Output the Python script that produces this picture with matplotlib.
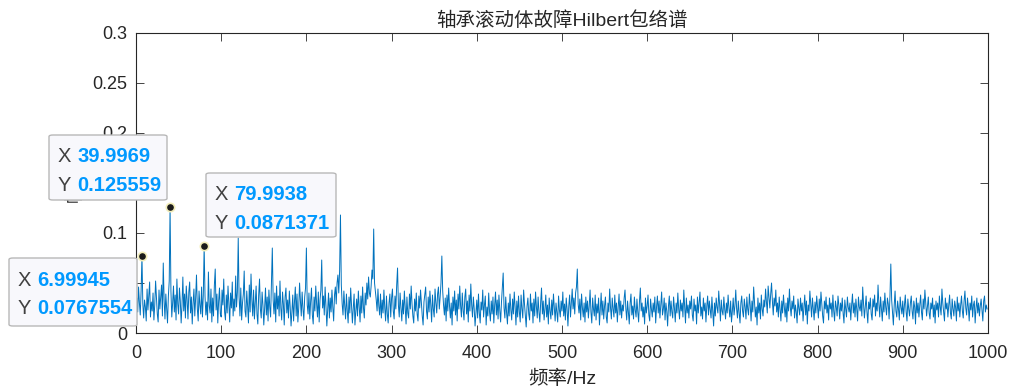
import numpy as np
import matplotlib
matplotlib.use('Agg')
from matplotlib import pyplot as plt
from matplotlib.patches import FancyBboxPatch

plt.rcParams['font.family'] = ['Liberation Sans', 'Noto Sans CJK SC', 'DejaVu Sans']

# 频率分辨率 (Hz)
df = 0.999922

# 包络谱幅值, 单位 1e-4, 每行 10 个点 (0 ~ 999 Hz)
amp_e4 = [
    80, 350, 210, 460, 300, 180, 420, 768, 290, 150,
    330, 260, 120, 440, 230, 370, 510, 160, 310, 220,
    400, 130, 280, 520, 350, 190, 110, 430, 240, 360,
    480, 170, 700, 330, 140, 390, 250, 100, 370, 520,
    1256, 420, 160, 300, 470, 210, 380, 130, 540, 290,
    190, 450, 320, 100, 280, 560, 220, 390, 150, 470,
    330, 140, 410, 510, 200, 360, 90, 300, 440, 170,
    350, 580, 240, 120, 420, 280, 190, 460, 160, 380,
    871, 370, 180, 310, 130, 610, 270, 200, 440, 110,
    350, 170, 480, 640, 230, 390, 100, 320, 450, 190,
    160, 430, 280, 540, 210, 130, 380, 200, 470, 290,
    110, 400, 250, 510, 170, 340, 220, 570, 260, 410,
    950, 360, 170, 450, 130, 300, 390, 620, 220, 160,
    420, 270, 100, 480, 210, 590, 330, 170, 430, 140,
    310, 470, 190, 90, 380, 540, 240, 150, 410, 280,
    80, 250, 450, 180, 360, 120, 430, 260, 160, 500,
    850, 330, 190, 400, 110, 470, 240, 370, 170, 520,
    250, 130, 410, 290, 80, 360, 450, 200, 330, 150,
    420, 260, 70, 210, 380, 120, 310, 460, 170, 390,
    110, 250, 500, 320, 170, 410, 240, 130, 360, 450,
    850, 280, 190, 400, 140, 320, 450, 180, 90, 360,
    220, 470, 290, 160, 410, 110, 330, 430, 730, 250,
    370, 180, 460, 270, 70, 240, 400, 150, 350, 210,
    430, 260, 120, 380, 460, 290, 500, 580, 400, 620,
    1180, 480, 290, 180, 420, 270, 140, 390, 220, 100,
    360, 200, 450, 280, 100, 240, 390, 80, 220, 340,
    170, 420, 260, 110, 370, 200, 460, 250, 150, 400,
    280, 500, 340, 560, 400, 360, 470, 630, 540, 1040,
    500, 420, 330, 220, 440, 270, 180, 390, 150, 330,
    200, 430, 250, 120, 370, 190, 100, 300, 390, 160,
    350, 440, 220, 140, 370, 240, 480, 650, 280, 160,
    400, 250, 120, 330, 190, 420, 260, 90, 360, 200,
    150, 390, 240, 470, 290, 170, 100, 340, 220, 400,
    190, 120, 370, 250, 430, 300, 170, 80, 310, 390,
    460, 220, 140, 360, 210, 420, 280, 110, 380, 240,
    160, 440, 300, 200, 390, 460, 240, 360, 500, 770,
    420, 280, 180, 350, 120, 380, 220, 450, 270, 150,
    300, 80, 360, 220, 420, 180, 330, 120, 390, 240,
    470, 270, 160, 400, 230, 130, 360, 440, 190, 320,
    110, 380, 220, 490, 280, 160, 360, 240, 70, 200,
    330, 150, 390, 200, 100, 310, 230, 430, 160, 280,
    370, 80, 260, 170, 400, 210, 120, 320, 190, 360,
    100, 280, 410, 180, 330, 140, 380, 230, 110, 310,
    460, 600, 250, 150, 360, 200, 90, 300, 170, 390,
    230, 130, 340, 190, 410, 260, 80, 320, 160, 370,
    210, 110, 380, 240, 150, 430, 290, 180, 60, 270,
    350, 190, 130, 390, 220, 300, 100, 340, 170, 410,
    260, 150, 360, 210, 110, 310, 450, 190, 320, 130,
    240, 380, 160, 280, 90, 350, 220, 140, 330, 180,
    390, 250, 120, 300, 200, 110, 370, 230, 160, 320,
    220, 410, 170, 290, 130, 350, 240, 70, 270, 380,
    160, 300, 440, 240, 350, 190, 400, 460, 640, 290,
    200, 340, 130, 390, 250, 160, 300, 110, 360, 210,
    320, 150, 270, 430, 210, 100, 350, 240, 170, 380,
    130, 290, 200, 350, 80, 250, 400, 180, 320, 140,
    270, 360, 160, 100, 300, 210, 440, 250, 140, 350,
    240, 160, 380, 200, 300, 110, 260, 390, 180, 320,
    150, 280, 220, 350, 430, 240, 130, 320, 200, 90,
    300, 390, 180, 270, 140, 360, 230, 160, 340, 210,
    110, 320, 450, 220, 300, 160, 260, 90, 350, 200,
    270, 380, 180, 120, 340, 240, 160, 300, 210, 360,
    100, 260, 370, 200, 320, 150, 280, 410, 180, 240,
    350, 130, 300, 220, 70, 270, 370, 170, 320, 210,
    150, 360, 250, 110, 300, 200, 400, 240, 140, 330,
    220, 300, 160, 430, 260, 100, 350, 200, 280, 150,
    320, 240, 370, 180, 120, 340, 220, 280, 90, 360,
    200, 300, 410, 170, 260, 140, 350, 220, 300, 110,
    270, 370, 180, 320, 240, 150, 360, 220, 70, 300,
    170, 350, 260, 200, 420, 290, 120, 330, 220, 180,
    360, 240, 140, 300, 200, 380, 250, 160, 320, 110,
    220, 350, 180, 270, 430, 240, 150, 320, 200, 100,
    300, 370, 220, 160, 340, 260, 140, 360, 240, 180,
    390, 270, 120, 320, 210, 460, 300, 160, 260, 80,
    350, 200, 300, 140, 380, 240, 170, 330, 260, 440,
    310, 200, 470, 360, 250, 390, 500, 320, 180, 350,
    270, 430, 210, 300, 160, 360, 240, 120, 320, 200,
    380, 260, 160, 300, 110, 350, 220, 440, 260, 170,
    320, 240, 370, 150, 280, 210, 100, 340, 250, 180,
    350, 220, 300, 120, 260, 380, 180, 320, 90, 280,
    220, 420, 290, 160, 350, 240, 130, 310, 200, 370,
    260, 150, 340, 220, 410, 290, 170, 100, 320, 240,
    360, 200, 280, 130, 350, 240, 300, 160, 380, 220,
    120, 320, 260, 170, 370, 280, 140, 300, 220, 350,
    200, 100, 330, 240, 160, 360, 260, 210, 300, 130,
    280, 390, 200, 300, 160, 340, 240, 120, 360, 260,
    220, 330, 170, 460, 290, 150, 260, 370, 210, 100,
    310, 240, 350, 190, 130, 340, 260, 380, 170, 300,
    220, 480, 290, 160, 360, 240, 120, 320, 210, 400,
    260, 180, 350, 290, 140, 370, 690, 330, 200, 80,
    280, 420, 220, 160, 320, 240, 130, 360, 260, 190,
    320, 160, 280, 380, 210, 120, 340, 240, 170, 300,
    370, 220, 140, 320, 260, 90, 350, 200, 300, 160,
    280, 380, 210, 130, 340, 240, 430, 300, 170, 260,
    360, 200, 140, 300, 240, 350, 160, 280, 100, 320,
    230, 300, 160, 370, 260, 180, 440, 300, 210, 120,
    350, 240, 300, 160, 280, 380, 200, 140, 340, 240,
    170, 320, 260, 120, 360, 220, 300, 160, 280, 370,
    220, 150, 320, 420, 250, 180, 350, 260, 120, 300,
    230, 370, 160, 280, 320, 100, 250, 350, 200, 300,
    170, 270, 340, 230, 120, 320, 370, 210, 280, 240,
]

# 数据提示点 (索引与幅值)
tip_idx = [7, 40, 80]
tip_val = [0.0767554, 0.125559, 0.0871371]

amp = np.array(amp_e4, dtype=float) * 1e-4
amp[tip_idx] = tip_val
freq = np.arange(len(amp)) * df

fig = plt.figure(figsize=(10.14, 3.9), dpi=100)
ax = fig.add_axes([136/1014, 1 - 333/390, 852/1014, 300/390])
ax.plot(freq, amp, color='#0072BD', lw=0.7)
ax.set_xlim(0, 1000)
ax.set_ylim(0, 0.3)
ax.set_xticks(np.arange(0, 1001, 100))
ax.set_yticks(np.arange(0, 0.301, 0.05))
ax.set_yticklabels(['0', '0.05', '0.1', '0.15', '0.2', '0.25', '0.3'])

dark = '#262626'
for s in ax.spines.values():
    s.set_color(dark)
    s.set_linewidth(0.8)
ax.tick_params(direction='in', length=6, width=0.6, colors=dark, labelsize=13,
               top=True, right=True, pad=6)
ax.tick_params(axis='x', pad=9)
ax.set_title('轴承滚动体故障Hilbert包络谱', fontsize=14, color=dark, pad=5)
ax.set_xlabel('频率/Hz', fontsize=14, color=dark, labelpad=5)
ax.set_ylabel('幅值', fontsize=14, color=dark, labelpad=6)

# 数据提示标记
ax.plot(freq[tip_idx], amp[tip_idx], 'o', ms=6, mfc='#1a1a1a', mec='#f3eebb',
        mew=1.2, zorder=5, clip_on=False)

# 数据提示框 (像素: 左, 上, 宽, 高)
boxes = [(49, 135, 118, 65), (206, 173, 130, 64), (9, 258, 128, 68)]
W, H = 1014, 390
for (l, t, w, h), i in zip(boxes, [1, 2, 0]):
    patch = FancyBboxPatch((l / W, 1 - (t + h) / H), w / W, h / H,
                           boxstyle='round,pad=0,rounding_size=0.004',
                           transform=fig.transFigure, facecolor='#f8f8fc',
                           edgecolor='#b8b8b8', lw=1.0, zorder=10)
    fig.add_artist(patch)
    xs = '%.6g' % freq[tip_idx[i]]
    ys = '%.6g' % amp[tip_idx[i]]
    for row, (lab, val) in enumerate([('X', xs), ('Y', ys)]):
        yy = 1 - (t + 22 + row * 28.5) / H
        fig.text((l + 9) / W, yy, lab, fontsize=14.5, color='#404040',
                 va='center', ha='left', zorder=11)
        fig.text((l + 28) / W, yy, val, fontsize=14.5, color='#0099FF',
                 fontweight='bold', va='center', ha='left', zorder=11)

fig.savefig('out.png', dpi=100)
